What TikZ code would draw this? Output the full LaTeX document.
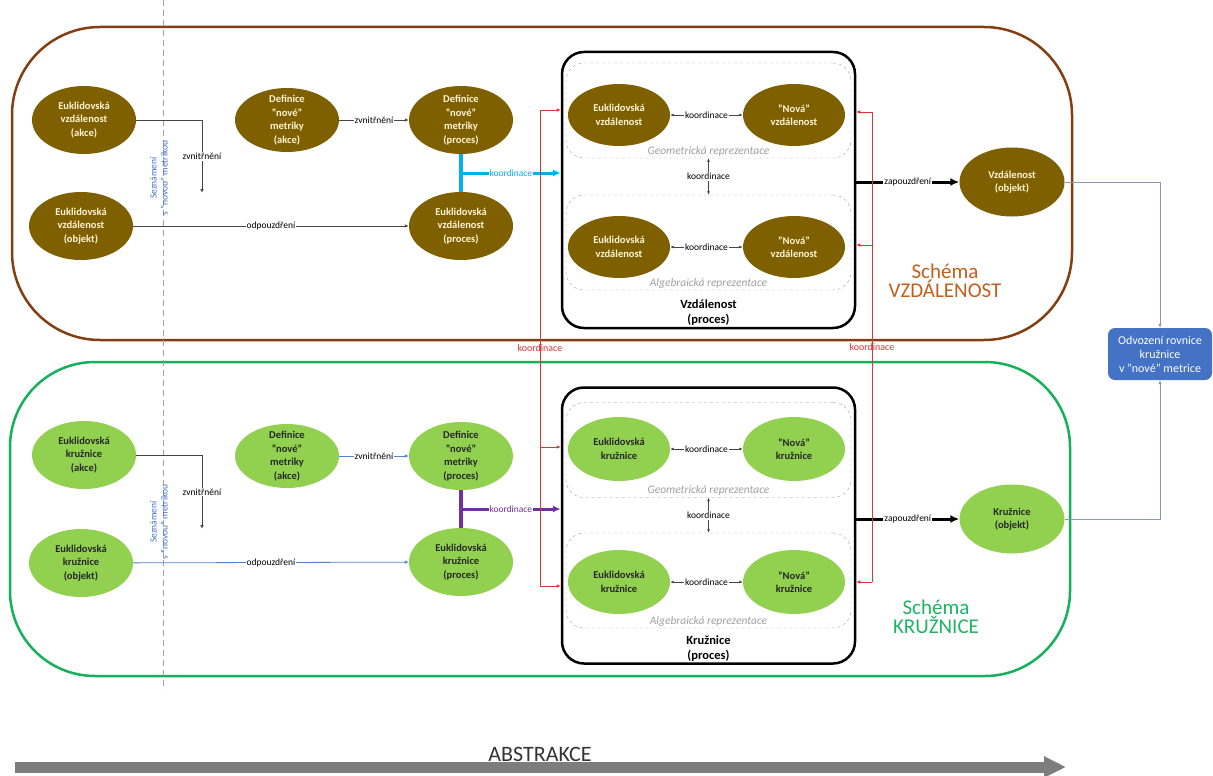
\documentclass[tikz,border=0pt]{standalone}
\usepackage{fontspec}
\setmainfont{Carlito}
\setsansfont{Carlito}
\usetikzlibrary{arrows.meta,positioning,shapes.geometric}

\definecolor{ellbrown}{RGB}{127,96,0}
\definecolor{ellcream}{RGB}{255,244,214}
\definecolor{ellgreen}{RGB}{146,208,80}
\definecolor{framebrown}{RGB}{132,62,18}
\definecolor{framegreen}{RGB}{20,176,90}
\definecolor{schemabrown}{RGB}{192,96,28}
\definecolor{schemagreen}{RGB}{30,180,100}
\definecolor{linkgray}{RGB}{70,70,70}
\definecolor{linkblue}{RGB}{80,130,205}
\definecolor{sezblue}{RGB}{68,114,196}
\definecolor{skyline}{RGB}{0,176,240}
\definecolor{purpline}{RGB}{112,48,160}
\definecolor{koordred}{RGB}{226,50,50}
\definecolor{repgray}{RGB}{160,160,160}
\definecolor{objgray}{RGB}{140,150,172}
\definecolor{odvblue}{RGB}{68,114,196}
\definecolor{abstrgray}{RGB}{125,125,125}

\begin{document}
\begin{tikzpicture}[
    x=1pt, y=-1pt,
    font=\sffamily,
    brownell/.style={ellipse, fill=ellbrown, text=ellcream, align=center,
        font=\sffamily\bfseries\fontsize{10.5}{13.5}\selectfont,
        inner xsep=0pt, inner ysep=-4pt, minimum width=104pt, minimum height=68pt},
    greenell/.style={brownell, fill=ellgreen, text=black!85},
    link/.style={-{Latex[length=4pt,width=3.5pt]}, draw=linkgray, line width=0.8pt},
    bluelink/.style={link, draw=linkblue},
    koord/.style={{Latex[length=3.5pt,width=3pt]}-{Latex[length=3.5pt,width=3pt]}, draw=linkgray, line width=0.7pt},
    lbl/.style={fill=white, inner sep=1pt, text=black, font=\sffamily\fontsize{9.5}{11}\selectfont},
    sez/.style={rotate=90, align=center, text=sezblue, font=\sffamily\fontsize{9.5}{11}\selectfont},
    coordarrow/.style={-{Latex[length=8pt,width=7pt]}, line width=3pt},
    procbox/.style={draw, rounded corners=22pt, line width=2.5pt, minimum width=293pt, minimum height=276pt},
    proclbl/.style={align=center, font=\sffamily\bfseries\fontsize{12.5}{15}\selectfont},
    rep/.style={draw=repgray, dashed, rounded corners=18pt, minimum width=285pt, minimum height=95pt},
    replbl/.style={text=repgray, inner sep=2pt, font=\sffamily\itshape\fontsize{11.5}{13}\selectfont},
    rlink/.style={draw=koordred, line width=0.6pt},
    rlbl/.style={text=koordred, font=\sffamily\fontsize{10}{12}\selectfont},
    wraparrow/.style={-{Latex[length=9pt,width=8pt]}, line width=3pt},
    objlink/.style={-{Latex[length=4pt,width=3.5pt]}, draw=objgray, line width=0.7pt},
    schema/.style={align=center, font=\sffamily\fontsize{21}{19}\selectfont},
    odvbox/.style={fill=odvblue, text=white, rounded corners=7pt, align=center,
        minimum width=104pt, minimum height=52pt, inner xsep=3pt,
        font=\sffamily\fontsize{12}{14}\selectfont}
]
\useasboundingbox (0,0) rectangle (1213,776);

\draw[framebrown, line width=2.5pt, rounded corners=88pt] (12,27) rectangle (1072,340);
\draw[framegreen, line width=2.5pt, rounded corners=85pt] (10,362) rectangle (1070,676);
\draw[repgray, dashed, dash pattern=on 6pt off 4pt] (163,0) -- (163,690);

% schema VZDALENOST
\node[brownell] (ve1) at (84,120) {Euklidovská\\vzdálenost\\(akce)};
\node[brownell] (ve2) at (81,226) {Euklidovská\\vzdálenost\\(objekt)};
\node[brownell, minimum height=64pt] (vd1) at (287,120) {Definice\\"nové"\\metriky\\(akce)};
\node[brownell] (vd2) at (461,120) {Definice\\"nové"\\metriky\\(proces)};
\node[brownell] (ve3) at (461,226) {Euklidovská\\vzdálenost\\(proces)};
\node[sez] (vsez) at (159,178) {Seznámení\\s "novou" metrikou};

\coordinate (vint) at (202,193);
\draw[link] (ve1.east) -| (vint) node[lbl, pos=0.75] {zvnitřnění};
\draw[link] (vd1) -- (vd2) node[lbl, midway] {zvnitřnění};
\draw[link] (ve2) -- (ve3) node[lbl, midway] {odpouzdření};

\node[procbox] (vproc) at (708.5,190) {};
\node[rep] (vgeo) at (708.5,110.5) {};
\node[replbl, above=0pt of vgeo.south] (vgeolbl) {Geometrická reprezentace};
\node[rep] (valg) at (708.5,242.5) {};
\node[replbl, above=0pt of valg.south] (valglbl) {Algebraická reprezentace};
\node[brownell, minimum width=102pt, minimum height=62pt] (vgeo1) at (619,115) {Euklidovská\\vzdálenost};
\node[brownell, minimum width=102pt, minimum height=62pt] (vgeo2) at (794,115) {"Nová"\\vzdálenost};
\node[brownell, minimum width=102pt, minimum height=62pt] (valg1) at (619,247) {Euklidovská\\vzdálenost};
\node[brownell, minimum width=102pt, minimum height=62pt] (valg2) at (794,247) {"Nová"\\vzdálenost};
\node[proclbl, above=0pt of vproc.south] (vproclbl) {Vzdálenost\\(proces)};

\draw[koord] (vgeo1) -- (vgeo2) node[lbl, midway] {koordinace};
\draw[koord] (valg1) -- (valg2) node[lbl, midway] {koordinace};
\draw[koord] (vgeo) -- (valg) node[lbl, midway] {koordinace};

\draw[skyline, line width=4pt] (vd2.south) -- (ve3.north) coordinate[pos=0.5] (vmid);
\draw[coordarrow, skyline] (vmid) -- (vproc.west |- vmid) node[lbl, text=skyline, midway] {koordinace};

\node[brownell, minimum width=105pt, minimum height=69pt] (vobj) at (1012,182) {Vzdálenost\\(objekt)};
\draw[wraparrow] (vproc.east |- vobj) -- (vobj) node[lbl, midway] {zapouzdření};
\node[schema, text=schemabrown] (vschema) at (945,281) {Schéma\\VZDÁLENOST};

% schema KRUZNICE
\node[greenell] (ke1) at (84,455) {Euklidovská\\kružnice\\(akce)};
\node[greenell] (ke2) at (81,563) {Euklidovská\\kružnice\\(objekt)};
\node[greenell, minimum height=64pt] (kd1) at (287,456) {Definice\\"nové"\\metriky\\(akce)};
\node[greenell] (kd2) at (461,456) {Definice\\"nové"\\metriky\\(proces)};
\node[greenell] (ke3) at (461,562) {Euklidovská\\kružnice\\(proces)};
\node[sez] (ksez) at (159,522) {Seznámení\\s "novou" metrikou};

\coordinate (kint) at (202,529);
\draw[link] (ke1.east) -| (kint) node[lbl, pos=0.75] {zvnitřnění};
\draw[bluelink] (kd1) -- (kd2) node[lbl, midway] {zvnitřnění};
\draw[bluelink] (ke2) -- (ke3) node[lbl, midway] {odpouzdření};

\node[procbox] (kproc) at (708.5,525.5) {};
\node[rep] (kgeo) at (708.5,450) {};
\node[replbl, above=0pt of kgeo.south] (kgeolbl) {Geometrická reprezentace};
\node[rep] (kalg) at (708.5,580.5) {};
\node[replbl, above=0pt of kalg.south] (kalglbl) {Algebraická reprezentace};
\node[greenell, minimum width=102pt, minimum height=64pt] (kgeo1) at (619,449) {Euklidovská\\kružnice};
\node[greenell, minimum width=102pt, minimum height=64pt] (kgeo2) at (794,449) {"Nová"\\kružnice};
\node[greenell, minimum width=102pt, minimum height=64pt] (kalg1) at (619,582) {Euklidovská\\kružnice};
\node[greenell, minimum width=102pt, minimum height=64pt] (kalg2) at (794,582) {"Nová"\\kružnice};
\node[proclbl, above=0pt of kproc.south] (kproclbl) {Kružnice\\(proces)};

\draw[koord] (kgeo1) -- (kgeo2) node[lbl, midway] {koordinace};
\draw[koord] (kalg1) -- (kalg2) node[lbl, midway] {koordinace};
\draw[koord] (kgeo) -- (kalg) node[lbl, midway] {koordinace};

\draw[purpline, line width=4pt] (kd2.south) -- (ke3.north) coordinate[pos=0.5] (kmid);
\draw[coordarrow, purpline] (kmid) -- (kproc.west |- kmid) node[lbl, text=purpline, midway] {koordinace};

\node[greenell, minimum width=105pt, minimum height=69pt] (kobj) at (1012,519) {Kružnice\\(objekt)};
\draw[wraparrow] (kproc.east |- kobj) -- (kobj) node[lbl, midway] {zapouzdření};
\node[schema, text=schemagreen] (kschema) at (936,617) {Schéma\\KRUŽNICE};

% koordinace mezi schematy
\coordinate (lt) at (540,110);
\coordinate (lm) at (540,447);
\coordinate (lb) at (540,586);
\coordinate (rt) at (872,112);
\coordinate (rm) at (872,245);
\coordinate (rb) at (872,582);
\draw[rlink] (lt) -- (lb) node[rlbl, midway] {koordinace};
\draw[rlink] (rt) -- (rb) node[rlbl, midway] {koordinace};
\draw[rlink, -{Latex[length=4pt,width=3.5pt]}] (lt) -- (vproc.west |- lt);
\draw[rlink, -{Latex[length=4pt,width=3.5pt]}] (lm) -- (kproc.west |- lm);
\draw[rlink, -{Latex[length=4pt,width=3.5pt]}] (lb) -- (kproc.west |- lb);
\draw[rlink, -{Latex[length=4pt,width=3.5pt]}] (rt) -- (vproc.east |- rt);
\draw[rlink, -{Latex[length=4pt,width=3.5pt]}] (rm) -- (vproc.east |- rm);
\draw[rlink, -{Latex[length=4pt,width=3.5pt]}] (rb) -- (kproc.east |- rb);

\node[odvbox] (odv) at (1160,354) {Odvození rovnice\\kružnice\\v "nové" metrice};
\draw[objlink] (vobj.east) -| (odv.north);
\draw[objlink] (kobj.east) -| (odv.south);

\coordinate (absl) at (15,767);
\coordinate (absr) at (1066,767);
\draw[abstrgray, line width=11pt, -{Triangle[length=22pt,width=20pt]}] (absl) -- (absr);
\node[text=black!80, font=\sffamily\fontsize{22}{24}\selectfont] (abslbl) at (540,754) {ABSTRAKCE};

\end{tikzpicture}
\end{document}
